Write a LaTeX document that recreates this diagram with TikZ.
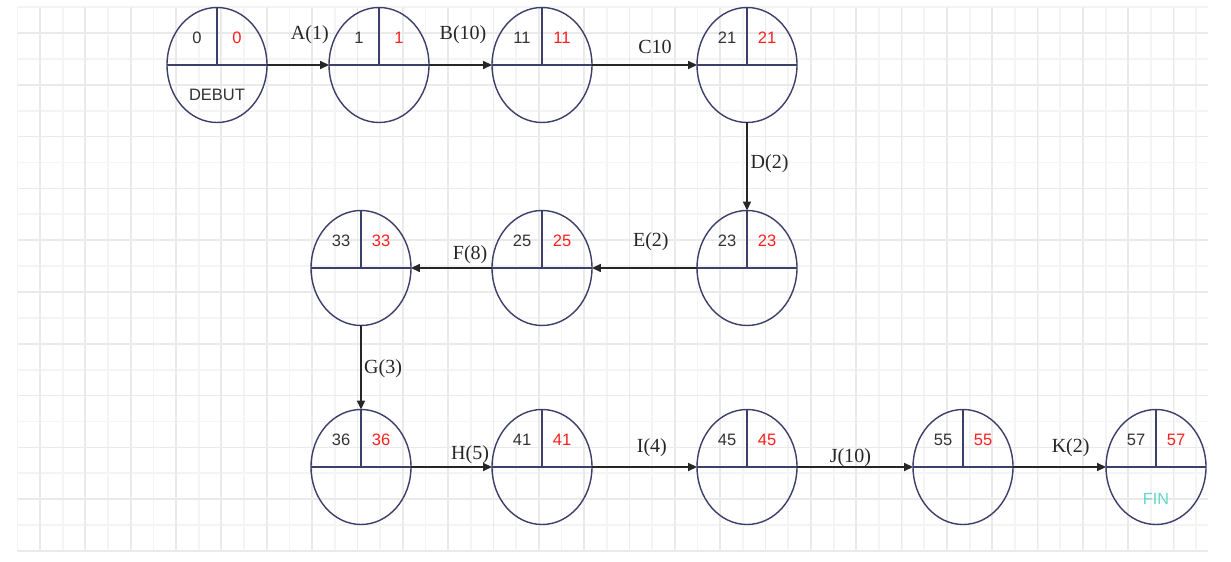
\documentclass[tikz,border=0pt]{standalone}
\usepackage{fontspec}
\setmainfont{Liberation Serif}
\setsansfont{Liberation Sans}
\usetikzlibrary{positioning,arrows.meta,shapes.geometric}

\definecolor{bordeev}{HTML}{3C3F6A}
\definecolor{rougedate}{HTML}{FF1E1E}
\definecolor{fincol}{HTML}{5ED8C8}
\definecolor{grillefine}{HTML}{F4F4F4}
\definecolor{grilleforte}{HTML}{EAEAEA}

% traits internes et dates d'un evenement
\newcommand{\dateset}[3]{%
  \draw[bordeev,line width=0.8pt] (#1.west) -- (#1.east) (#1.north) -- (#1.center);
  \node[dates] (#1-tot) at ([xshift=-0.4cm,yshift=0.55cm]#1.center) {#2};
  \node[dates,text=rougedate] (#1-tard) at ([xshift=0.4cm,yshift=0.55cm]#1.center) {#3};
}

\begin{document}
\begin{tikzpicture}[
    every node/.style={inner sep=1pt},
    >={Triangle[length=5pt,width=4.5pt]},
    evenement/.style={draw=bordeev, line width=0.8pt, ellipse,
        minimum width=2cm, minimum height=2.3cm, inner sep=0pt, outer sep=0pt},
    dates/.style={font=\sffamily\fontsize{9.4}{11}\selectfont, text=black!80},
    tache/.style={font=\fontsize{11.4}{13}\selectfont, inner sep=0pt},
    fleche/.style={->, line width=0.75pt, black!85}
]
\useasboundingbox (0,0) rectangle (24.62,-11.24);

% quadrillage
\begin{scope}[shift={(0.35,-0.142)}]
  \draw[grillefine, line width=1pt, xstep=0.4534, ystep=0.518] (0,-10.9) grid (23.8,0);
\end{scope}
\begin{scope}[shift={(0.80,-0.66)}]
  \draw[grilleforte, line width=1pt, xstep=0.9068, ystep=1.036] (-0.45,-10.37) grid (23.35,0.518);
\end{scope}

% Premiere ligne
\node[evenement] (deb) at (4.34,-1.30) {};
\node[evenement, right=1.24cm of deb] (e1) {};
\node[evenement, right=1.26cm of e1] (e11) {};
\node[evenement, right=2.1cm of e11] (e21) {};

% Deuxieme ligne (de droite a gauche)
\node[evenement, below=1.76cm of e21] (e23) {};
\node[evenement, left=2.1cm of e23] (e25) {};
\node[evenement, left=1.62cm of e25] (e33) {};

% Troisieme ligne
\node[evenement, below=1.68cm of e33] (e36) {};
\node[evenement, right=1.62cm of e36] (e41) {};
\node[evenement, right=2.1cm of e41] (e45) {};
\node[evenement, right=2.32cm of e45] (e55) {};
\node[evenement, right=1.86cm of e55] (fin) {};

% Dates au plus tot / au plus tard
\dateset{deb}{0}{0}
\dateset{e1}{1}{1}
\dateset{e11}{11}{11}
\dateset{e21}{21}{21}
\dateset{e23}{23}{23}
\dateset{e25}{25}{25}
\dateset{e33}{33}{33}
\dateset{e36}{36}{36}
\dateset{e41}{41}{41}
\dateset{e45}{45}{45}
\dateset{e55}{55}{55}
\dateset{fin}{57}{57}

\node[font=\sffamily\fontsize{9.4}{11}\selectfont, text=black!80] (deb-nom)
    at ([yshift=-0.6cm]deb.center) {DEBUT};
\node[font=\sffamily\fontsize{9.2}{11}\selectfont, text=fincol] (fin-nom)
    at ([yshift=-0.64cm]fin.center) {FIN};

% Taches
\draw[fleche] (deb.east) -- node[tache, pos=0.69, above=0.42cm] (tA) {A(1)} (e1.west);
\draw[fleche] (e1.east) -- node[tache, pos=0.54, above=0.42cm] (tB) {B(10)} (e11.west);
\draw[fleche] (e11.east) -- node[tache, pos=0.6, above=0.22cm] (tC) {C10} (e21.west);
\draw[fleche] (e21.south) -- node[tache, pos=0.47, right=0.06cm] (tD) {D(2)} (e23.north);
\draw[fleche] (e23.west) -- node[tache, pos=0.44, above=0.34cm] (tE) {E(2)} (e25.east);
\draw[fleche] (e25.west) -- node[tache, pos=0.27, above=0.08cm] (tF) {F(8)} (e33.east);
\draw[fleche] (e33.south) -- node[tache, pos=0.52, right=0.05cm] (tG) {G(3)} (e36.north);
\draw[fleche] (e36.east) -- node[tache, pos=0.73, above=0.06cm] (tH) {H(5)} (e41.west);
\draw[fleche] (e41.east) -- node[tache, pos=0.57, above=0.2cm] (tI) {I(4)} (e45.west);
\draw[fleche] (e45.east) -- node[tache, pos=0.46, above=0cm] (tJ) {J(10)} (e55.west);
\draw[fleche] (e55.east) -- node[tache, pos=0.62, above=0.2cm] (tK) {K(2)} (fin.west);

\end{tikzpicture}
\end{document}
